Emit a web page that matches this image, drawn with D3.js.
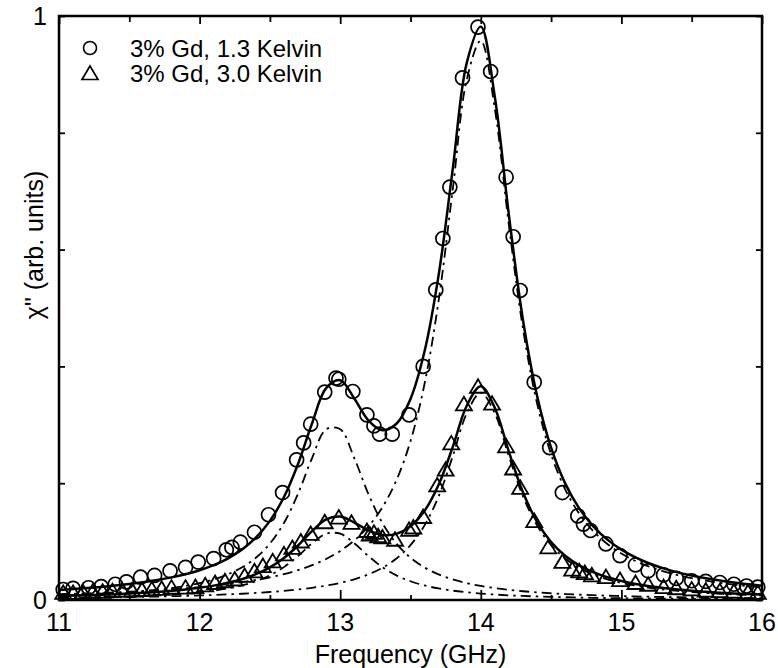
<!DOCTYPE html>
<html><head><meta charset="utf-8">
<script src="https://cdn.jsdelivr.net/npm/d3@7"></script>
<style>body{margin:0;background:#fff}</style>
</head><body>
<svg id="chart" width="778" height="668"></svg>
<script>
// ---- data ----
const fitFreq = [11.0,11.1,11.2,11.3,11.4,11.5,11.6,11.7,11.8,11.9,
  12.0,12.1,12.2,12.3,12.4,12.5,12.6,12.7,12.8,12.9,
  13.0,13.1,13.2,13.3,13.4,13.5,13.6,13.7,13.8,13.9,
  14.0,14.1,14.2,14.3,14.4,14.5,14.6,14.7,14.8,14.9,
  15.0,15.1,15.2,15.3,15.4,15.5,15.6,15.7,15.8,15.9,16.0];
const fitCircles = [0.0173,0.0188,0.0205,0.0224,0.0247,0.0274,0.0305,0.0342,0.0387,0.0442,
  0.0510,0.0597,0.0710,0.0861,0.1066,0.1355,0.1763,0.2330,0.3027,0.3627,
  0.3764,0.3450,0.3077,0.2907,0.3018,0.3443,0.4258,0.5563,0.7370,0.9197,
  0.9818,0.8608,0.6587,0.4795,0.3498,0.2608,0.1997,0.1569,0.1261,0.1034,
  0.0862,0.0729,0.0625,0.0541,0.0473,0.0418,0.0371,0.0332,0.0299,0.0270,0.0246];
const compCirclesLow = [0.0074,0.0082,0.0091,0.0102,0.0115,0.0131,0.0150,0.0174,0.0203,0.0241,
  0.0289,0.0352,0.0438,0.0556,0.0723,0.0966,0.1319,0.1818,0.2431,0.2924,
  0.2924,0.2431,0.1818,0.1319,0.0966,0.0723,0.0556,0.0438,0.0352,0.0289,
  0.0241,0.0203,0.0174,0.0150,0.0131,0.0115,0.0102,0.0091,0.0082,0.0074,
  0.0067,0.0061,0.0056,0.0051,0.0047,0.0044,0.0040,0.0038,0.0035,0.0033,0.0031];
const compCirclesHigh = [0.0099,0.0106,0.0114,0.0122,0.0132,0.0143,0.0155,0.0168,0.0184,0.0201,
  0.0221,0.0245,0.0272,0.0305,0.0343,0.0389,0.0444,0.0512,0.0596,0.0703,
  0.0840,0.1019,0.1259,0.1588,0.2052,0.2720,0.3702,0.5125,0.7018,0.8908,
  0.9577,0.8405,0.6413,0.4645,0.3367,0.2493,0.1895,0.1478,0.1179,0.0960,
  0.0795,0.0668,0.0569,0.0490,0.0426,0.0374,0.0331,0.0294,0.0264,0.0237,0.0215];
const fitTriangles = [0.0069,0.0076,0.0082,0.0090,0.0100,0.0111,0.0124,0.0139,0.0158,0.0181,
  0.0210,0.0246,0.0294,0.0356,0.0442,0.0559,0.0719,0.0933,0.1180,0.1381,
  0.1428,0.1326,0.1191,0.1114,0.1132,0.1261,0.1527,0.1973,0.2618,0.3327,
  0.3660,0.3288,0.2538,0.1844,0.1339,0.0993,0.0757,0.0593,0.0476,0.0389,
  0.0324,0.0274,0.0235,0.0204,0.0178,0.0157,0.0140,0.0124,0.0112,0.0101,0.0092];
const compTrianglesLow = [0.0034,0.0038,0.0042,0.0047,0.0053,0.0061,0.0069,0.0080,0.0093,0.0110,
  0.0132,0.0160,0.0198,0.0249,0.0321,0.0422,0.0563,0.0753,0.0971,0.1135,
  0.1135,0.0971,0.0753,0.0563,0.0422,0.0321,0.0249,0.0198,0.0160,0.0132,
  0.0110,0.0093,0.0080,0.0069,0.0061,0.0053,0.0047,0.0042,0.0038,0.0034,
  0.0031,0.0028,0.0026,0.0024,0.0022,0.0020,0.0019,0.0017,0.0016,0.0015,0.0014];
const compTrianglesHigh = [0.0035,0.0038,0.0040,0.0043,0.0047,0.0050,0.0055,0.0059,0.0065,0.0071,
  0.0078,0.0086,0.0096,0.0107,0.0121,0.0137,0.0156,0.0180,0.0209,0.0246,
  0.0293,0.0355,0.0438,0.0551,0.0710,0.0940,0.1278,0.1775,0.2458,0.3195,
  0.3550,0.3195,0.2458,0.1775,0.1278,0.0940,0.0710,0.0551,0.0438,0.0355,
  0.0293,0.0246,0.0209,0.0180,0.0156,0.0137,0.0121,0.0107,0.0096,0.0086,0.0078];

const circleFreq = [11.03,11.10,11.21,11.30,11.40,11.48,11.58,11.68,11.79,11.90,
  11.99,12.10,12.19,12.23,12.29,12.39,12.49,12.59,12.69,12.74,
  12.79,12.89,12.97,12.99,13.09,13.19,13.24,13.28,13.37,13.49,
  13.59,13.68,13.73,13.78,13.87,13.98,14.07,14.18,14.23,14.28,
  14.38,14.49,14.58,14.69,14.73,14.78,14.89,14.99,15.10,15.19,
  15.30,15.39,15.50,15.60,15.70,15.80,15.89,15.97];
const circleChi = [0.018,0.020,0.021,0.023,0.027,0.031,0.039,0.042,0.050,0.056,
  0.065,0.071,0.086,0.090,0.099,0.116,0.146,0.184,0.240,0.269,
  0.301,0.356,0.380,0.378,0.357,0.317,0.298,0.284,0.284,0.317,
  0.400,0.531,0.619,0.707,0.894,0.981,0.905,0.724,0.622,0.530,
  0.373,0.261,0.184,0.144,0.130,0.119,0.096,0.076,0.060,0.050,
  0.043,0.037,0.033,0.032,0.030,0.027,0.024,0.022];

const triangleFreq = [11.03,11.10,11.17,11.24,11.31,11.38,11.45,11.52,11.59,11.66,
  11.73,11.80,11.90,11.97,12.04,12.11,12.18,12.25,12.32,12.39,
  12.45,12.52,12.60,12.66,12.72,12.79,12.89,12.99,13.08,13.19,
  13.21,13.24,13.27,13.30,13.39,13.49,13.52,13.59,13.69,13.75,
  13.79,13.88,13.98,14.08,14.18,14.23,14.28,14.38,14.48,14.58,
  14.65,14.70,14.74,14.79,14.89,14.99,15.10,15.19,15.30,15.39,
  15.50,15.60,15.70,15.80,15.90,15.97];
const triangleChi = [0.013,0.013,0.014,0.015,0.015,0.016,0.017,0.017,0.018,0.019,
  0.020,0.022,0.022,0.023,0.026,0.030,0.033,0.036,0.042,0.050,
  0.059,0.067,0.079,0.090,0.101,0.114,0.134,0.142,0.133,0.119,
  0.113,0.116,0.110,0.108,0.104,0.121,0.125,0.143,0.197,0.224,
  0.269,0.336,0.366,0.337,0.264,0.226,0.193,0.136,0.091,0.066,
  0.053,0.050,0.047,0.043,0.040,0.035,0.030,0.027,0.023,0.021,
  0.019,0.017,0.016,0.015,0.014,0.013];

const xMajorTicks = [11,12,13,14,15,16];
const xMinorTicks = [11.5,12.5,13.5,14.5,15.5];
const yTicks = [0,0.2,0.4,0.6,0.8,1];
const yTickLabels = ["0","","","","","1"];
const legendLabels = ["3% Gd, 1.3 Kelvin","3% Gd, 3.0 Kelvin"];
const xTitle = "Frequency (GHz)";
const yTitle = "\u03C7\" (arb. units)";

// ---- drawing ----
const FONT = "'Liberation Sans', Arial, Helvetica, sans-serif";
const svg = d3.select("#chart");
const L = 59, R = 762, T = 16, B = 600;
const x = d3.scaleLinear().domain([11,16]).range([L,R]);
const y = d3.scaleLinear().domain([0,1]).range([B,T]);

// axes (ticks pointing inward)
function styleAxis(g){ g.select(".domain").remove(); g.selectAll("line").attr("stroke","#000").attr("stroke-width",1.8); g.selectAll("text").remove(); }
svg.append("g").attr("transform",`translate(0,${B})`).call(d3.axisBottom(x).tickValues(xMajorTicks).tickSize(-10)).call(styleAxis);
svg.append("g").attr("transform",`translate(0,${B})`).call(d3.axisBottom(x).tickValues(xMinorTicks).tickSize(-5)).call(styleAxis);
svg.append("g").attr("transform",`translate(0,${T})`).call(d3.axisTop(x).tickValues(xMajorTicks).tickSize(-8)).call(styleAxis);
svg.append("g").attr("transform",`translate(0,${T})`).call(d3.axisTop(x).tickValues(xMinorTicks).tickSize(-6)).call(styleAxis);
svg.append("g").attr("transform",`translate(${L},0)`).call(d3.axisLeft(y).tickValues(yTicks).tickSize(-6)).call(styleAxis);
svg.append("g").attr("transform",`translate(${R},0)`).call(d3.axisRight(y).tickValues(yTicks).tickSize(-6)).call(styleAxis);

// tick labels
svg.append("g").selectAll("text").data(xMajorTicks).join("text")
  .attr("x",d=>x(d)).attr("y",B+31).attr("text-anchor","middle")
  .attr("font-family",FONT).attr("font-size",25).text(d=>d);
svg.append("g").selectAll("text").data(yTicks).join("text")
  .attr("x",L-12).attr("y",d=>y(d)+9).attr("text-anchor","end")
  .attr("font-family",FONT).attr("font-size",25).text((d,i)=>yTickLabels[i]);

// titles
svg.append("text").attr("x",(L+R)/2).attr("y",663).attr("text-anchor","middle")
  .attr("font-family",FONT).attr("font-size",25).text(xTitle);
svg.append("text").attr("transform",`translate(43,245) rotate(-90)`).attr("text-anchor","middle")
  .attr("font-family",FONT).attr("font-size",25).text(yTitle);

// curves
const fitLine = vals => d3.line().x((d,i)=>x(fitFreq[i])).y(d=>y(d)).curve(d3.curveCatmullRom)(vals);
const plot = svg.append("g");
[compCirclesLow, compCirclesHigh, compTrianglesLow, compTrianglesHigh].forEach(v=>{
  plot.append("path").attr("d",fitLine(v)).attr("fill","none").attr("stroke","#000")
    .attr("stroke-width",1.8).attr("stroke-dasharray","10,5,2.5,5");
});
[fitCircles, fitTriangles].forEach(v=>{
  plot.append("path").attr("d",fitLine(v)).attr("fill","none").attr("stroke","#000")
    .attr("stroke-width",2.5);
});

// markers
const triPath = "M0,-7L8,6.5L-8,6.5Z";
plot.append("g").selectAll("circle").data(circleFreq).join("circle")
  .attr("cx",d=>x(d)).attr("cy",(d,i)=>y(circleChi[i])).attr("r",7)
  .attr("fill","none").attr("stroke","#000").attr("stroke-width",1.7);
plot.append("g").selectAll("path").data(triangleFreq).join("path")
  .attr("d",triPath).attr("transform",(d,i)=>`translate(${x(d)},${y(triangleChi[i])})`)
  .attr("fill","none").attr("stroke","#000").attr("stroke-width",1.8);

// frame
svg.append("rect").attr("x",L).attr("y",T).attr("width",R-L).attr("height",B-T)
  .attr("fill","none").attr("stroke","#000").attr("stroke-width",2.5);

// legend
const leg = svg.append("g");
legendLabels.forEach((t,i)=>{
  const cy = 48 + i*25;
  if(i===0) leg.append("circle").attr("cx",90).attr("cy",cy).attr("r",6.5).attr("fill","none").attr("stroke","#000").attr("stroke-width",1.6);
  else leg.append("path").attr("d",triPath).attr("transform",`translate(90,${cy})`).attr("fill","none").attr("stroke","#000").attr("stroke-width",1.7);
  leg.append("text").attr("x",130).attr("y",cy+9).attr("font-family",FONT).attr("font-size",24).text(t);
});
</script>
</body></html>
